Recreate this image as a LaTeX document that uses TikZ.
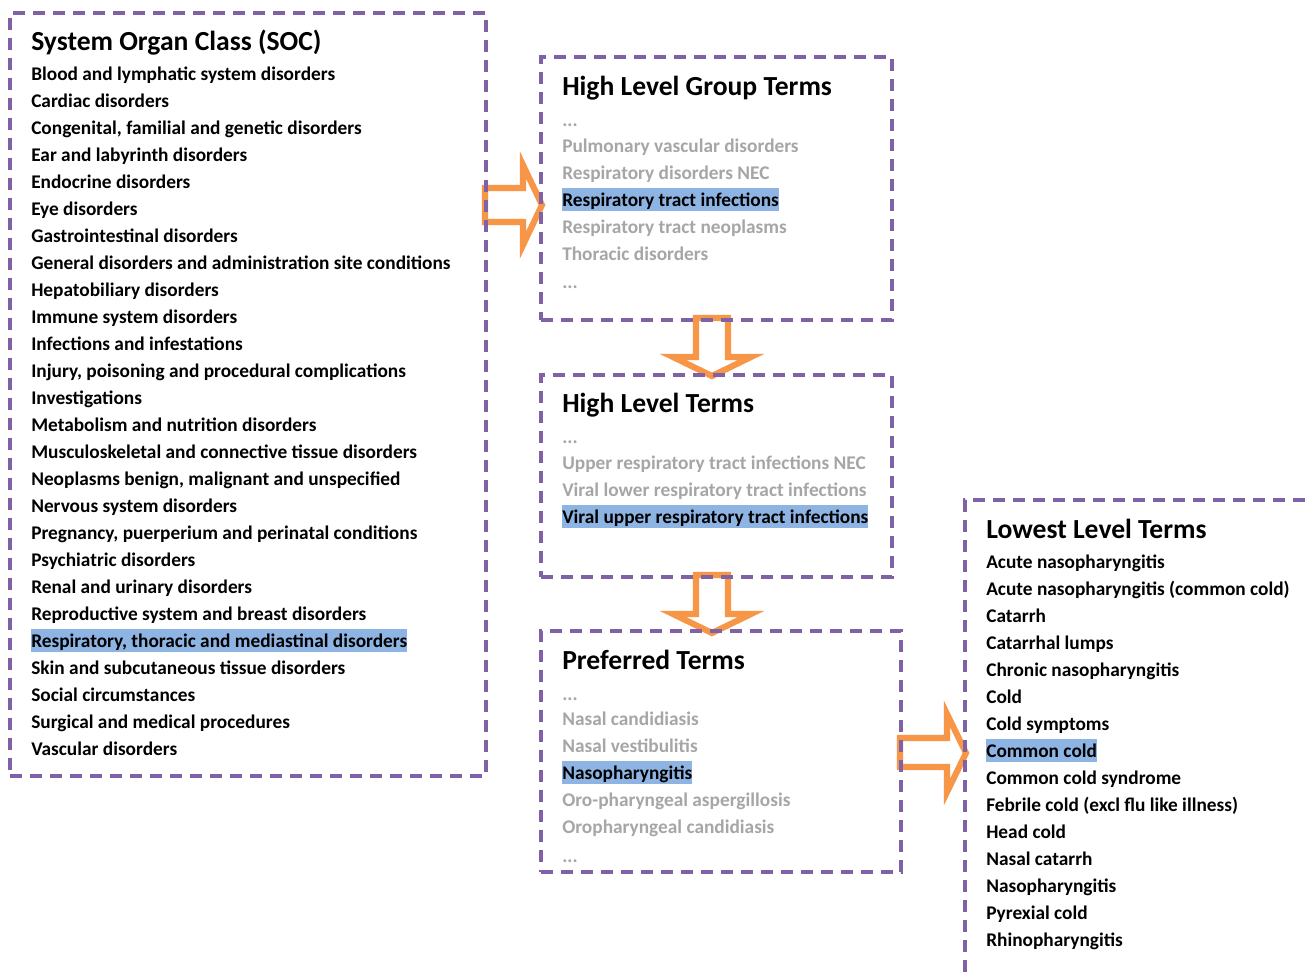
\documentclass[tikz,border=0pt]{standalone}
\usepackage{fontspec}
\setmainfont{Carlito}
\usetikzlibrary{fit}
\definecolor{boxpurple}{HTML}{7F62A6}
\definecolor{arroworange}{HTML}{F79646}
\definecolor{dimgray}{HTML}{A6A6A6}
\definecolor{hlblue}{HTML}{8DB4E2}
\newcommand\bodyfnt{\fontsize{14.5}{17}\selectfont\bfseries}
\newcommand\titlefnt{\fontsize{20.7}{24}\selectfont\bfseries}
\begin{document}
\begin{tikzpicture}[x=0.75pt,y=-0.75pt,
  box/.style={draw=boxpurple, line width=2.6pt, dash pattern=on 9pt off 6pt, inner sep=0pt},
  item/.style={anchor=base west, inner sep=0pt, font=\bodyfnt, text=black},
  dimitem/.style={item, text=dimgray},
  hlitem/.style={item, fill=hlblue, text height=13.5pt, text depth=3.8pt},
  ttl/.style={anchor=base west, inner sep=0pt, font=\titlefnt, text=black},
  blockarrow/.style={draw=arroworange, fill=white, line width=4.6pt, line join=miter}]
\useasboundingbox (0,0) rectangle (1309,971);
\clip (0,0) rectangle (1309,971);
\fill[white] (0,0) rectangle (1309,971);

% block arrows
\draw[blockarrow] (485,188) -- (523,188) -- (523,165) -- (542,205) -- (523,245) -- (523,222) -- (485,222) -- cycle;
\draw[blockarrow] (696,318) -- (728,318) -- (728,357) -- (751,357) -- (712,376) -- (673,357) -- (696,357) -- cycle;
\draw[blockarrow] (696,575) -- (728,575) -- (728,614) -- (751,614) -- (712,633) -- (673,614) -- (696,614) -- cycle;
\draw[blockarrow] (900,738) -- (947,738) -- (947,714) -- (966,753) -- (947,792) -- (947,767) -- (900,767) -- cycle;

% boxes
\node[box, fit={(10,13) (486,776)}] (soc) {};
\node[box, fit={(541,57) (892,320)}] (hlgt) {};
\node[box, fit={(541,375) (892,577)}] (hlt) {};
\node[box, fit={(541,631) (901,872)}] (pt) {};
\node[box, fit={(965,500) (1320,990)}] (llt) {};

% SOC
\node[ttl] (socT) at (31,50) {System Organ Class (SOC)};
\node[item] (s1) at (31,80) {Blood and lymphatic system disorders};
\node[item] (s2) at (31,107) {Cardiac disorders};
\node[item] (s3) at (31,134) {Congenital, familial and genetic disorders};
\node[item] (s4) at (31,161) {Ear and labyrinth disorders};
\node[item] (s5) at (31,188) {Endocrine disorders};
\node[item] (s6) at (31,215) {Eye disorders};
\node[item] (s7) at (31,242) {Gastrointestinal disorders};
\node[item] (s8) at (31,269) {General disorders and administration site conditions};
\node[item] (s9) at (31,296) {Hepatobiliary disorders};
\node[item] (s10) at (31,323) {Immune system disorders};
\node[item] (s11) at (31,350) {Infections and infestations};
\node[item] (s12) at (31,377) {Injury, poisoning and procedural complications};
\node[item] (s13) at (31,404) {Investigations};
\node[item] (s14) at (31,431) {Metabolism and nutrition disorders};
\node[item] (s15) at (31,458) {Musculoskeletal and connective tissue disorders};
\node[item] (s16) at (31,485) {Neoplasms benign, malignant and unspecified};
\node[item] (s17) at (31,512) {Nervous system disorders};
\node[item] (s18) at (31,539) {Pregnancy, puerperium and perinatal conditions};
\node[item] (s19) at (31,566) {Psychiatric disorders};
\node[item] (s20) at (31,593) {Renal and urinary disorders};
\node[item] (s21) at (31,620) {Reproductive system and breast disorders};
\node[hlitem] (s22) at (31,647) {Respiratory, thoracic and mediastinal disorders};
\node[item] (s23) at (31,674) {Skin and subcutaneous tissue disorders};
\node[item] (s24) at (31,701) {Social circumstances};
\node[item] (s25) at (31,728) {Surgical and medical procedures};
\node[item] (s26) at (31,755) {Vascular disorders};

% HLGT
\node[ttl] (hlgtT) at (562,95) {High Level Group Terms};
\node[dimitem] (g0) at (562,126) {...};
\node[dimitem] (g1) at (562,152) {Pulmonary vascular disorders};
\node[dimitem] (g2) at (562,179) {Respiratory disorders NEC};
\node[hlitem] (g3) at (562,206) {Respiratory tract infections};
\node[dimitem] (g4) at (562,233) {Respiratory tract neoplasms};
\node[dimitem] (g5) at (562,260) {Thoracic disorders};
\node[dimitem] (g6) at (562,288) {...};

% HLT
\node[ttl] (hltT) at (562,412) {High Level Terms};
\node[dimitem] (h0) at (562,443) {...};
\node[dimitem] (h1) at (562,469) {Upper respiratory tract infections NEC};
\node[dimitem] (h2) at (562,496) {Viral lower respiratory tract infections};
\node[hlitem] (h3) at (562,523) {Viral upper respiratory tract infections};

% PT
\node[ttl] (ptT) at (562,669) {Preferred Terms};
\node[dimitem] (p0) at (562,700) {...};
\node[dimitem] (p1) at (562,725) {Nasal candidiasis};
\node[dimitem] (p2) at (562,752) {Nasal vestibulitis};
\node[hlitem] (p3) at (562,779) {Nasopharyngitis};
\node[dimitem] (p4) at (562,806) {Oro-pharyngeal aspergillosis};
\node[dimitem] (p5) at (562,833) {Oropharyngeal candidiasis};
\node[dimitem] (p6) at (562,862) {...};

% LLT
\node[ttl] (lltT) at (986,538) {Lowest Level Terms};
\node[item] (l1) at (986,568) {Acute nasopharyngitis};
\node[item] (l2) at (986,595) {Acute nasopharyngitis (common cold)};
\node[item] (l3) at (986,622) {Catarrh};
\node[item] (l4) at (986,649) {Catarrhal lumps};
\node[item] (l5) at (986,676) {Chronic nasopharyngitis};
\node[item] (l6) at (986,703) {Cold};
\node[item] (l7) at (986,730) {Cold symptoms};
\node[hlitem] (l8) at (986,757) {Common cold};
\node[item] (l9) at (986,784) {Common cold syndrome};
\node[item] (l10) at (986,811) {Febrile cold (excl flu like illness)};
\node[item] (l11) at (986,838) {Head cold};
\node[item] (l12) at (986,865) {Nasal catarrh};
\node[item] (l13) at (986,892) {Nasopharyngitis};
\node[item] (l14) at (986,919) {Pyrexial cold};
\node[item] (l15) at (986,946) {Rhinopharyngitis};
\end{tikzpicture}
\end{document}
